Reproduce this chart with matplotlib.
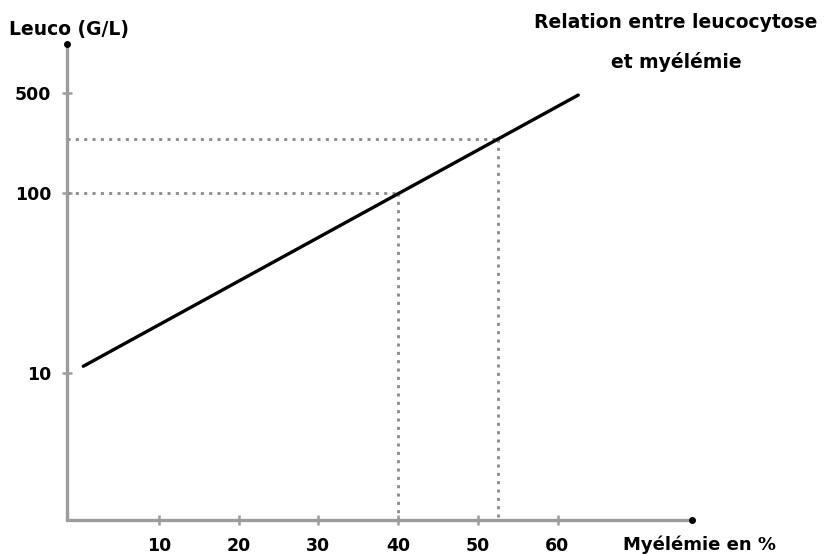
import numpy as np
import matplotlib
matplotlib.use("Agg")
import matplotlib.pyplot as plt

# ---- data ----
x_ticks = [10, 20, 30, 40, 50, 60]
y_ticks = [10, 100, 500]
y_tick_labels = ["10", "100", "500"]
line_x = [0.5, 62.6]
line_y = [10.9, 483]
ref_x = [40, 52.5]
ref_y = [100, 238]

# piecewise-log y scale (schematic axis: 500 sits closer to 100 than true log)
L_knots = [-1.0, 0.0, 1.0, 2.0, np.log10(500), 4.0]
_s = (1.556 - 1.0) / (np.log10(500) - 2.0)
P_knots = [-2.0, -1.0, 0.0, 1.0, 1.556, 1.556 + (4.0 - np.log10(500)) * _s]


def fwd(v):
    v = np.asarray(v, dtype=float)
    with np.errstate(divide="ignore", invalid="ignore"):
        lv = np.log10(np.clip(v, 1e-3, None))
    return np.interp(lv, L_knots, P_knots)


def inv(p):
    p = np.asarray(p, dtype=float)
    return 10 ** np.interp(p, P_knots, L_knots)


W, H = 830, 554
fig = plt.figure(figsize=(W / 100, H / 100), dpi=100)
ax_l, ax_r, ax_t, ax_b = 67, 692, 44, 520
ax = fig.add_axes([ax_l / W, 1 - ax_b / H, (ax_r - ax_l) / W, (ax_b - ax_t) / H])

ax.set_yscale("function", functions=(fwd, inv))
# y: pixel = 373 - 180*t
t_bot = (373 - ax_b) / 180.0
t_top = (373 - ax_t) / 180.0
ax.set_ylim(float(inv(t_bot)), float(inv(t_top)))
# x: pixel = 79.3 + 7.97*x
ax.set_xlim((ax_l - 79.3) / 7.97, (ax_r - 79.3) / 7.97)

grey = "#9c9c9c"
dot_grey = "#8a8a8a"

# reference dotted lines
for rx, ry in zip(ref_x, ref_y):
    ax.plot([ax.get_xlim()[0], rx], [ry, ry], color=dot_grey, lw=2.0,
            linestyle=(0, (1.1, 1.9)), solid_capstyle="butt", zorder=2)
    ax.plot([rx, rx], [ry, ax.get_ylim()[0]], color=dot_grey, lw=2.0,
            linestyle=(0, (1.1, 1.9)), solid_capstyle="butt", zorder=2)

# main line
ax.plot(line_x, line_y, color="black", lw=2.4, solid_capstyle="round", zorder=3)

# spines
for s in ["top", "right"]:
    ax.spines[s].set_visible(False)
for s in ["left", "bottom"]:
    ax.spines[s].set_color(grey)
    ax.spines[s].set_linewidth(2.4)
    ax.spines[s].set_capstyle("round")

# end dots
ax.plot([0], [1], marker="o", ms=4, color="black", transform=ax.transAxes, clip_on=False, zorder=5)
ax.plot([1], [0], marker="o", ms=4, color="black", transform=ax.transAxes, clip_on=False, zorder=5)

ax.set_xticks(x_ticks)
ax.set_xticklabels([str(v) for v in x_ticks])
ax.set_yticks(y_ticks)
ax.set_yticklabels(y_tick_labels)
ax.minorticks_off()
ax.tick_params(axis="both", direction="inout", length=7, width=1.8, color=grey,
               labelsize=12.5)
ax.tick_params(axis="x", pad=9)
ax.tick_params(axis="y", pad=8)
for lab in ax.get_xticklabels() + ax.get_yticklabels():
    lab.set_fontweight("bold")

fig.text(9 / W, 1 - 30 / H, "Leuco (G/L)", ha="left", va="center",
         fontsize=13.5, fontweight="bold")
fig.text(676 / W, 1 - 22 / H, "Relation entre leucocytose", ha="center", va="center",
         fontsize=13.5, fontweight="bold")
fig.text(676 / W, 1 - 62 / H, "et myélémie", ha="center", va="center",
         fontsize=13.5, fontweight="bold")
fig.text(699 / W, 1 - 545 / H, "Myélémie en %", ha="center", va="center",
         fontsize=13, fontweight="bold")

fig.savefig("out.png", dpi=100)
